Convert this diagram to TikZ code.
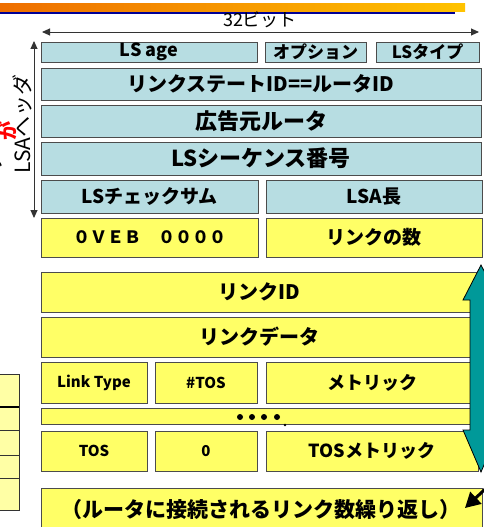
\documentclass[tikz,border=0pt]{standalone}
\usepackage{fontspec}
\setmainfont{Noto Sans CJK JP}
\usetikzlibrary{arrows.meta}
\definecolor{hdrblue}{RGB}{183,221,226}
\definecolor{fyellow}{RGB}{255,255,102}
\definecolor{lyellow}{RGB}{255,255,165}
\definecolor{tealA}{RGB}{0,153,153}
\definecolor{orangeL}{RGB}{238,110,0}
\definecolor{orangeR}{RGB}{255,195,0}
\definecolor{navyA}{RGB}{0,0,150}
\newcommand\fld[8]{\node[field, fill=#6, fs=#7, minimum width={#4-#2}, minimum height={#5-#3}] (#1) at ({(#2+#4)/2},{(#3+#5)/2}) {#8};}
\begin{document}
\begin{tikzpicture}[x=1pt,y=-1pt,
  field/.style={draw=black!70, line width=0.9pt, inner sep=0pt},
  fs/.style={font=\bfseries\fontsize{#1}{#1}\selectfont},
  plain/.style={font=\fontsize{#1}{#1}\selectfont, inner sep=0pt},
  dimarrow/.style={line width=0.9pt, draw=black!80, {Triangle[length=8pt,width=7pt]}-{Triangle[length=8pt,width=7pt]}}]
\useasboundingbox (0,0) rectangle (484,527);
\clip (0,0) rectangle (484,527);
% top band
\shade[left color=orangeL, right color=orangeR] (0,4) rectangle (465,12);
\fill[navyA] (0,12) rectangle (455,13.6);
% 32 bit arrow
\coordinate (bL) at (42,32);
\coordinate (bR) at (479,32);
\draw[dimarrow] (bL) -- (bR);
\node[plain=18] (bits) at (260,20) {32ビット};
% LSA header arrow
\coordinate (vT) at (34,41);
\coordinate (vB) at (34,218);
\draw[dimarrow] (vT) -- (vB);
\node[plain=21, rotate=90] (lsah) at (22,124) {LSAヘッダ};
\node[plain=19, rotate=90, text=red] (ga) at (7.5,131) {\bfseries が};
\node[plain=18, rotate=90] (frag) at (-5,164) {リ};
% left table fragment
\foreach \a/\b in {374/407,407/430,430/455,455/478,478/510}
  \draw[fill=lyellow, draw=black!80, line width=0.8pt] (-5,\a) rectangle (19,\b);
\draw[line width=2pt] (-5,407) -- (19,407);
% header rows
\fld{lsage}{41}{42}{257}{62}{hdrblue}{18}{LS age}
\fld{opt}{265}{42}{366}{62}{hdrblue}{17}{オプション}
\fld{lstype}{376}{42}{479}{62}{hdrblue}{17}{LSタイプ}
\fld{lsid}{41}{68}{481}{100}{hdrblue}{20}{リンクステートID==ルータID}
\fld{adv}{41}{105}{481}{137}{hdrblue}{22}{広告元ルータ}
\fld{seq}{41}{142}{481}{175}{hdrblue}{22}{LSシーケンス番号}
\fld{cks}{41}{180}{258}{213}{hdrblue}{19}{LSチェックサム}
\fld{len}{266}{180}{482}{213}{hdrblue}{19}{LSA長}
% router LSA body
\fld{veb}{41}{218}{258}{257}{fyellow}{17}{０ＶＥＢ　００００}
\fld{nlink}{266}{218}{482}{257}{fyellow}{19}{リンクの数}
\fld{lid}{41}{272}{478}{312}{fyellow}{20}{リンクID}
\fld{ldata}{41}{317}{478}{357}{fyellow}{20}{リンクデータ}
\fld{ltype}{41}{362}{147}{403}{fyellow}{15}{Link Type}
\fld{ntos}{155}{362}{257}{403}{fyellow}{15}{\#TOS}
\fld{metric}{266}{362}{478}{403}{fyellow}{18}{メトリック}
\fld{dots}{41}{408}{478}{424}{fyellow}{10}{}
\fld{tos}{41}{431}{147}{471}{fyellow}{15}{TOS}
\fld{zero}{155}{431}{257}{471}{fyellow}{15}{0}
\fld{tosm}{266}{431}{478}{471}{fyellow}{18}{TOSメトリック}
\fld{rep}{41}{488}{482}{540}{fyellow}{21}{}
\node[fs=21, inner sep=0pt] (reptxt) at (261,510) {（ルータに接続されるリンク数繰り返し）};
\foreach \x in {240,252,264,277} \fill (\x,417) circle (3pt);
\fill (285,425) circle (1.3pt);
% teal double arrow
\filldraw[fill=tealA, draw=black, line width=0.8pt]
  (481,265) -- (499,300) -- (492,300) -- (492,430) -- (499,430) -- (481,472)
  -- (463,430) -- (470,430) -- (470,300) -- (463,300) -- cycle;
% black pointer
\coordinate (pS) at (497,478);
\coordinate (pT) at (465,508);
\draw[line width=3pt, -{Triangle[length=15pt,width=16pt]}] (pS) -- (pT);
\end{tikzpicture}
\end{document}
